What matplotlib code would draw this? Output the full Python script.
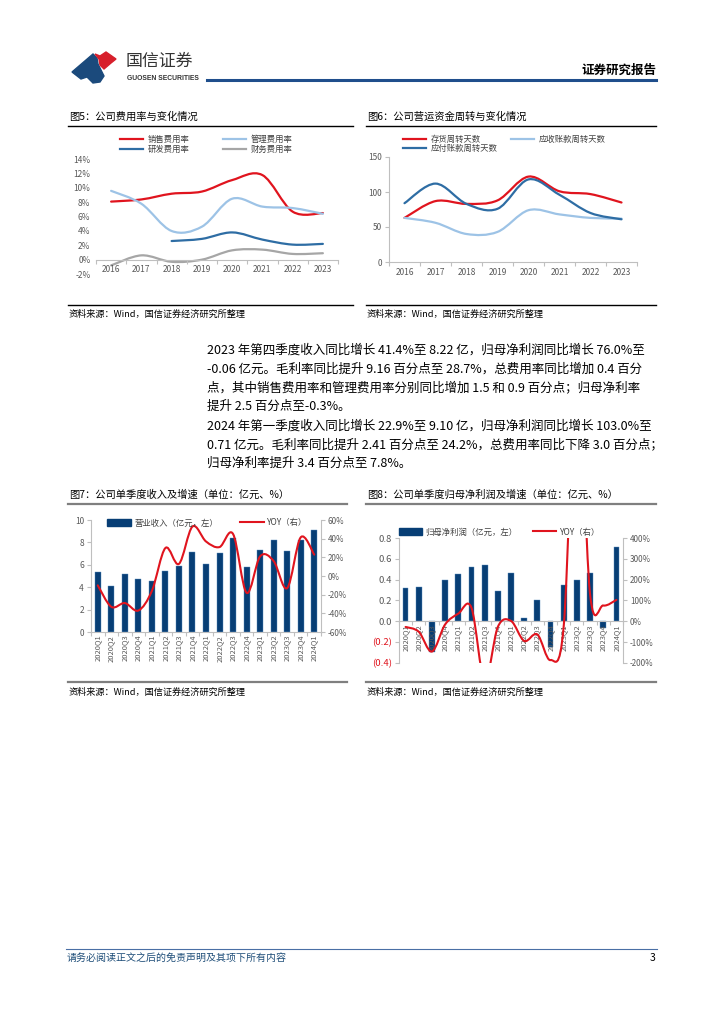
import numpy as np
import matplotlib
matplotlib.use("Agg")
import matplotlib.pyplot as plt
from matplotlib.path import Path
from matplotlib.patches import PathPatch, Polygon, Patch
from matplotlib.lines import Line2D
from matplotlib.ticker import FuncFormatter, FixedLocator

plt.rcParams['font.family'] = ['Noto Sans CJK SC', 'DejaVu Sans']
plt.rcParams['axes.unicode_minus'] = False

# ---- data ----
years = ['2016', '2017', '2018', '2019', '2020', '2021', '2022', '2023']
sales_rate = [8.1, 8.4, 9.2, 9.5, 11.1, 11.8, 6.7, 6.5]
admin_rate = [9.6, 7.8, 4.0, 4.6, 8.5, 7.4, 7.2, 6.4]
rd_rate = [None, None, 2.6, 2.9, 3.8, 2.8, 2.1, 2.2]
fin_rate = [-0.8, 0.6, -0.3, 0.0, 1.3, 1.4, 0.8, 0.9]

inv_days = [63, 87, 83, 88, 122, 101, 97, 85]
recv_days = [63, 56, 40, 43, 74, 68, 63, 62]
pay_days = [84, 112, 83, 76, 118, 96, 70, 61]

quarters = ['2020Q1', '2020Q2', '2020Q3', '2020Q4', '2021Q1', '2021Q2', '2021Q3', '2021Q4',
            '2022Q1', '2022Q2', '2022Q3', '2022Q4', '2023Q1', '2023Q2', '2023Q3', '2023Q4', '2024Q1']
revenue = [5.35, 4.15, 5.2, 4.7, 4.55, 5.45, 5.85, 7.15, 6.1, 7.05, 8.4, 5.8, 7.35, 8.2, 7.25, 8.22, 9.1]
revenue_yoy = [-10, -33, -29, -37, -16, 30, 13, 53, 37, 31, 45, -18, 21, 16, -13, 41.4, 22.9]
profit = [0.32, 0.325, -0.29, 0.40, 0.45, 0.52, 0.54, 0.29, 0.46, 0.03, 0.20, -0.25, 0.35, 0.40, 0.46, -0.06, 0.71]
profit_yoy = [-27, -50, -145, -15, 37, 65, -286, -27, 2, -94, -63, -186, -24, 1233, 130, 76, 103]

para1 = ["2023 年第四季度收入同比增长 41.4%至 8.22 亿，归母净利润同比增长 76.0%至",
         "-0.06 亿元。毛利率同比提升 9.16 百分点至 28.7%，总费用率同比增加 0.4 百分",
         "点，其中销售费用率和管理费用率分别同比增加 1.5 和 0.9 百分点；归母净利率",
         "提升 2.5 百分点至-0.3%。"]
para2 = ["2024 年第一季度收入同比增长 22.9%至 9.10 亿，归母净利润同比增长 103.0%至",
         "0.71 亿元。毛利率同比提升 2.41 百分点至 24.2%，总费用率同比下降 3.0 百分点；",
         "归母净利率提升 3.4 百分点至 7.8%。"]

RED = '#e0141e'
LBLUE = '#9dc3e6'
BLUE = '#2e6da4'
GRAY = '#a6a6a6'
NAVY = '#073e75'
TICK = '#595959'
AXC = '#bfbfbf'

W, H = 724, 1024
fig = plt.figure(figsize=(7.24, 10.24), dpi=100)


def fx(x):
    return x / W


def fy(y):
    return 1 - y / H


def rect(l, t, r, b):
    return [l / W, 1 - b / H, (r - l) / W, (b - t) / H]


def hline(x0, x1, y, color='black', lw=1.0):
    fig.add_artist(Line2D([fx(x0), fx(x1)], [fy(y), fy(y)], color=color, lw=lw,
                          transform=fig.transFigure))


def smooth(ax, x, y, **kw):
    # smoothed line (bezier through the data points)
    x = np.asarray(x, float)
    y = np.asarray(y, float)
    n = len(x)
    verts = [(x[0], y[0])]
    codes = [Path.MOVETO]
    for i in range(n - 1):
        xa, ya = (x[i - 1], y[i - 1]) if i > 0 else (x[i], y[i])
        xb, yb = (x[i + 2], y[i + 2]) if i + 2 < n else (x[i + 1], y[i + 1])
        c1 = (x[i] + (x[i + 1] - xa) / 6, y[i] + (y[i + 1] - ya) / 6)
        c2 = (x[i + 1] - (xb - x[i]) / 6, y[i + 1] - (yb - y[i]) / 6)
        verts += [c1, c2, (x[i + 1], y[i + 1])]
        codes += [Path.CURVE4] * 3
    ax.add_patch(PathPatch(Path(verts, codes), fill=False, capstyle='round', **kw))


# ---- header ----
blue_logo = [(72, 72), (86, 60), (93, 54), (97, 58), (98, 64), (101, 70), (104, 76), (100, 82),
             (93, 83), (87, 77), (81, 79)]
red_logo = [(95, 54), (100, 56), (106, 52), (116, 59), (111, 63), (104, 69), (100, 65), (99, 59)]
fig.add_artist(Polygon([(fx(a), fy(b)) for a, b in blue_logo], closed=True, color='#1b4a7c',
                       transform=fig.transFigure))
fig.add_artist(Polygon([(fx(a), fy(b)) for a, b in red_logo], closed=True, color='#d71f2b',
                       transform=fig.transFigure))
fig.text(fx(126), fy(61), '国信证券', fontsize=12.2, color='#333333', va='center', ha='left')
fig.text(fx(127), fy(78), 'GUOSEN SECURITIES', fontsize=4.9, color='#333333', va='center', ha='left',
         fontweight='bold', family=['Liberation Sans', 'DejaVu Sans'])
fig.text(fx(656), fy(70), '证券研究报告', fontsize=9, fontweight='bold', va='center', ha='right')
hline(207, 656, 80, color='#1f4e8c', lw=2.2)

# ---- chart titles / sources ----
fig.text(fx(69), fy(117), '图5：公司费用率与变化情况', fontsize=7.4, va='center')
fig.text(fx(367), fy(117), '图6：公司营运资金周转与变化情况', fontsize=7.4, va='center')
hline(68, 353, 126, lw=1.0)
hline(366, 656, 126, lw=1.0)
hline(68, 353, 305, lw=1.0)
hline(366, 656, 305, lw=1.0)
fig.text(fx(69), fy(314), '资料来源：Wind，国信证券经济研究所整理', fontsize=6.6, va='center')
fig.text(fx(367), fy(314), '资料来源：Wind，国信证券经济研究所整理', fontsize=6.6, va='center')

fig.text(fx(69), fy(495), '图7：公司单季度收入及增速（单位：亿元、%）', fontsize=7.4, va='center')
fig.text(fx(367), fy(495), '图8：公司单季度归母净利润及增速（单位：亿元、%）', fontsize=7.4, va='center')
hline(68, 347, 504, color='#7f7f7f', lw=1.6)
hline(366, 656, 504, color='#7f7f7f', lw=1.6)
hline(68, 347, 682, color='#7f7f7f', lw=1.6)
hline(366, 656, 682, color='#7f7f7f', lw=1.6)
fig.text(fx(69), fy(692), '资料来源：Wind，国信证券经济研究所整理', fontsize=6.6, va='center')
fig.text(fx(367), fy(692), '资料来源：Wind，国信证券经济研究所整理', fontsize=6.6, va='center')

# ---- body text ----
for i, s in enumerate(para1):
    fig.text(fx(207), fy(350 + i * 18.7), s, fontsize=9.0, va='center')
for i, s in enumerate(para2):
    fig.text(fx(207), fy(426 + i * 18.7), s, fontsize=9.0, va='center')

# ---- footer ----
hline(66, 657, 949, color='#4a6fa5', lw=0.8)
fig.text(fx(67), fy(958), '请务必阅读正文之后的免责声明及其项下所有内容', fontsize=7.2, style='italic',
         color='#1f4e79', va='center')
fig.text(fx(655), fy(958), '3', fontsize=7.5, va='center', ha='right')


def cat_axis(ax, n):
    ax.set_xlim(-0.5, n - 0.5)
    ax.xaxis.set_major_locator(FixedLocator(range(n)))
    ax.xaxis.set_minor_locator(FixedLocator(np.arange(-0.5, n, 1.0)))
    ax.tick_params(axis='x', which='major', length=0, labelsize=6.0, labelcolor=TICK, pad=4)
    ax.tick_params(axis='x', which='minor', length=3, color=AXC, width=0.8)


# ---- chart 5 ----
ax5 = fig.add_axes(rect(96, 159.3, 338, 274))
ax5.set_facecolor('none')
ax5.spines['bottom'].set_position(('data', 0))
x = np.arange(len(years))
smooth(ax5, x, sales_rate, color=RED, lw=1.6)
smooth(ax5, x, admin_rate, color=LBLUE, lw=1.6)
rd_idx = [i for i, v in enumerate(rd_rate) if v is not None]
smooth(ax5, rd_idx, [rd_rate[i] for i in rd_idx], color=BLUE, lw=1.6)
smooth(ax5, x, fin_rate, color=GRAY, lw=1.6)
cat_axis(ax5, len(years))
ax5.set_xticklabels(years)
ax5.set_ylim(-2, 14)
ax5.set_yticks(np.arange(-2, 15, 2))
ax5.yaxis.set_major_formatter(FuncFormatter(lambda v, p: f'{v:.0f}%'))
ax5.tick_params(axis='y', length=0, labelsize=6.0, labelcolor=TICK, pad=4)
for s in ['left', 'right', 'top']:
    ax5.spines[s].set_visible(False)
ax5.spines['bottom'].set_color(AXC)
ax5.spines['bottom'].set_linewidth(0.8)
h5 = [Line2D([], [], color=RED, lw=1.6), Line2D([], [], color=LBLUE, lw=1.6),
      Line2D([], [], color=BLUE, lw=1.6), Line2D([], [], color=GRAY, lw=1.6)]
# order for ncol=2 fills column-wise
leg = ax5.legend([h5[0], h5[2], h5[1], h5[3]], ['销售费用率', '研发费用率', '管理费用率', '财务费用率'],
                 ncol=2, loc='upper left', bbox_to_anchor=(fx(120), fy(135)),
                 bbox_transform=fig.transFigure, frameon=False, fontsize=6,
                 handlelength=2.8, handletextpad=0.5, columnspacing=4.0, labelspacing=0.15,
                 borderpad=0, borderaxespad=0)
for t in leg.get_texts():
    t.set_color('#404040')

# ---- chart 6 ----
ax6 = fig.add_axes(rect(389, 157, 637, 262))
smooth(ax6, x, inv_days, color=RED, lw=1.6)
smooth(ax6, x, recv_days, color=LBLUE, lw=1.6)
smooth(ax6, x, pay_days, color=BLUE, lw=1.6)
cat_axis(ax6, len(years))
ax6.set_xticklabels(years)
ax6.set_ylim(0, 150)
ax6.set_yticks([0, 50, 100, 150])
ax6.tick_params(axis='y', length=3, color=AXC, width=0.8, labelsize=6.0, labelcolor=TICK, pad=2)
for s in ['right', 'top']:
    ax6.spines[s].set_visible(False)
for s in ['left', 'bottom']:
    ax6.spines[s].set_color(AXC)
    ax6.spines[s].set_linewidth(0.8)
h6 = [Line2D([], [], color=RED, lw=1.6), Line2D([], [], color=BLUE, lw=1.6),
      Line2D([], [], color=LBLUE, lw=1.6)]
leg = ax6.legend(h6, ['存货周转天数', '应付账款周转天数', '应收账款周转天数'],
                 ncol=2, loc='upper left', bbox_to_anchor=(fx(403), fy(134.5)),
                 bbox_transform=fig.transFigure, frameon=False, fontsize=6,
                 handlelength=2.8, handletextpad=0.5, columnspacing=1.6, labelspacing=0.1,
                 borderpad=0, borderaxespad=0)
for t in leg.get_texts():
    t.set_color('#404040')


def bar_axes(ax, ax2, n):
    ax.set_xlim(-0.5, n - 0.5)
    ax.xaxis.set_major_locator(FixedLocator(range(n)))
    ax.xaxis.set_minor_locator(FixedLocator(np.arange(-0.5, n, 1.0)))
    ax.set_xticklabels(quarters, rotation=90)
    ax.tick_params(axis='x', which='major', length=0, labelsize=5.4, labelcolor=TICK, pad=2)
    ax.tick_params(axis='x', which='minor', length=3, color=AXC, width=0.8)
    ax.tick_params(axis='y', length=3, color=AXC, width=0.8, labelsize=6.0, labelcolor=TICK, pad=2)
    ax2.tick_params(axis='y', length=3, color=AXC, width=0.8, labelsize=5.8, labelcolor=TICK, pad=2)
    for a in (ax, ax2):
        a.spines['top'].set_visible(False)
        for s in ['left', 'right', 'bottom']:
            a.spines[s].set_color(AXC)
            a.spines[s].set_linewidth(0.8)
    ax2.spines['bottom'].set_visible(False)
    ax2.spines['left'].set_visible(False)
    ax.spines['right'].set_visible(False)


qx = np.arange(len(quarters))

# ---- chart 7 ----
ax7 = fig.add_axes(rect(91, 520, 321, 632))
ax7b = ax7.twinx()
ax7.bar(qx, revenue, width=0.44, color=NAVY, edgecolor='#5b8cc0', linewidth=0.3)
smooth(ax7b, qx, revenue_yoy, color=RED, lw=1.5)
ax7.set_ylim(0, 10)
ax7.set_yticks(range(0, 11, 2))
ax7b.set_ylim(-60, 60)
ax7b.set_yticks(range(-60, 61, 20))
ax7b.yaxis.set_major_formatter(FuncFormatter(lambda v, p: f'{v:.0f}%'))
bar_axes(ax7, ax7b, len(quarters))
leg = ax7b.legend([Patch(color=NAVY), Line2D([], [], color=RED, lw=1.5)],
                  ['营业收入（亿元，左）', 'YOY（右）'], ncol=2, loc='center left',
                  bbox_to_anchor=(fx(107), fy(523)), bbox_transform=fig.transFigure,
                  frameon=False, fontsize=6, handlelength=2.9, handleheight=0.8,
                  handletextpad=0.4, columnspacing=2.6, borderpad=0, borderaxespad=0)
for t in leg.get_texts():
    t.set_color('#404040')

# ---- chart 8 ----
ax8 = fig.add_axes(rect(399, 538, 623, 663))
ax8.spines['bottom'].set_position(('data', 0))
ax8b = ax8.twinx()
ax8.bar(qx, profit, width=0.44, color=NAVY, edgecolor='#5b8cc0', linewidth=0.3)
smooth(ax8b, qx, profit_yoy, color=RED, lw=1.5)
ax8.set_ylim(-0.4, 0.8)
ax8.set_yticks(np.arange(-0.4, 0.81, 0.2))
ax8.yaxis.set_major_formatter(FuncFormatter(
    lambda v, p: f'({abs(v):.1f})' if v < -1e-9 else f'{abs(v):.1f}'))
ax8b.set_ylim(-200, 400)
ax8b.set_yticks(range(-200, 401, 100))
ax8b.yaxis.set_major_formatter(FuncFormatter(lambda v, p: f'{v:.0f}%'))
bar_axes(ax8, ax8b, len(quarters))
ax8.tick_params(axis='y', labelsize=6.8)
for lab, v in zip(ax8.get_yticklabels(), np.arange(-0.4, 0.81, 0.2)):
    if v < -1e-9:
        lab.set_color(RED)
leg = ax8b.legend([Patch(color=NAVY), Line2D([], [], color=RED, lw=1.5)],
                  ['归母净利润（亿元，左）', 'YOY（右）'], ncol=2, loc='center left',
                  bbox_to_anchor=(fx(399), fy(532)), bbox_transform=fig.transFigure,
                  frameon=False, fontsize=6, handlelength=2.8, handleheight=0.8,
                  handletextpad=0.4, columnspacing=1.8, borderpad=0, borderaxespad=0)
for t in leg.get_texts():
    t.set_color('#404040')

fig.savefig('out.png', dpi=100)
